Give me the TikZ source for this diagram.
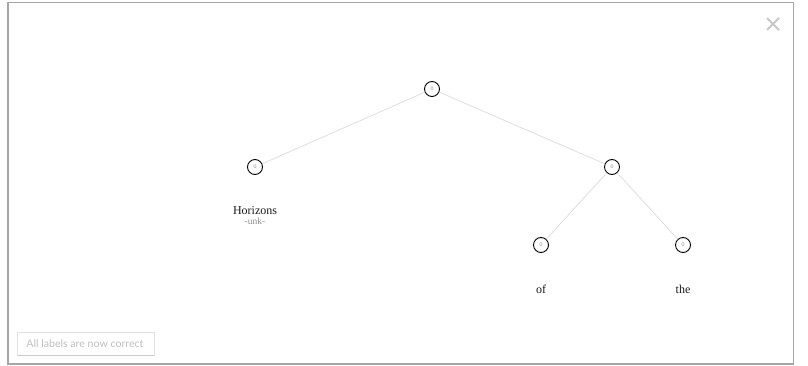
\documentclass[tikz,border=0pt]{standalone}
\usepackage{fontspec}
\setmainfont{Liberation Serif}
\setsansfont{Lato}
\begin{document}
\begin{tikzpicture}[x=1pt,y=-1pt,
  tnode/.style={circle,draw=black,line width=0.9pt,minimum size=15pt,inner sep=0pt,fill=white,
     font=\sffamily\fontsize{5}{5}\selectfont,text=black!45},
  edge/.style={draw=black!13,line width=0.8pt},
  word/.style={font=\fontsize{12}{13}\selectfont,text=black!90},
  tag/.style={font=\fontsize{9.5}{10}\selectfont,text=black!45}]
\useasboundingbox (0,0) rectangle (808,366);
\draw[black!35,line width=1.6pt] (8,2.5) -- (793.5,2.5) -- (793.5,364) -- (8,364) -- cycle;
% close icon
\draw[black!22,line width=1.8pt] (767,18) -- (779,30) (779,18) -- (767,30);
% tree
\node[tnode] (r) at (432,89) {0};
\node[tnode] (a) at (255,167) {0};
\node[tnode] (b) at (612,167) {0};
\node[tnode] (c) at (541,245) {0};
\node[tnode] (d) at (683,245) {0};
\draw[edge] (r) -- (a);
\draw[edge] (r) -- (b);
\draw[edge] (b) -- (c);
\draw[edge] (b) -- (d);
\node[word] (wa) at (255,211) {Horizons};
\node[tag] (ta) at (255,221.5) {-unk-};
\node[word] (wc) at (541,289) {of};
\node[word] (wd) at (683,289) {the};
% button
\draw[black!12,line width=1pt,fill=white] (17.5,332.5) rectangle (154,355);
\draw[black!20,line width=1pt] (17.5,355) -- (154,355);
\node[font=\sffamily\fontsize{10.6}{11}\selectfont,text=black!25] (btn) at (85,343.5) {All labels are now correct};
\end{tikzpicture}
\end{document}
